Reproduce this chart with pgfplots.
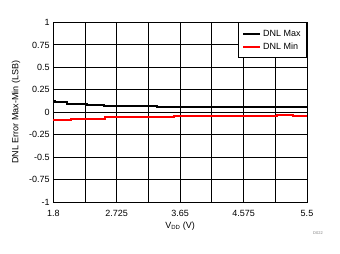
\documentclass[border=0pt]{standalone}
\usepackage{fontspec}
\setmainfont{Liberation Sans}
\usepackage{pgfplots}
\pgfplotsset{compat=1.18}
\begin{document}
\begin{tikzpicture}[x=1pt,y=1pt]
\fontsize{9}{10.8}\selectfont
\path[use as bounding box] (0,0) rectangle (340,254);
\begin{axis}[
  at={(53.3pt,52pt)}, anchor=south west,
  scale only axis, width=253.7pt, height=179.5pt,
  xmin=1.8, xmax=5.5, ymin=-1, ymax=1,
  xtick={1.8,2.725,3.65,4.575,5.5},
  xticklabels={1.8,2.725,3.65,4.575,5.5},
  minor xtick={2.2625,3.1875,4.1125,5.0375},
  ytick={-1,-0.75,-0.5,-0.25,0,0.25,0.5,0.75,1},
  yticklabels={-1,-0.75,-0.5,-0.25,0,0.25,0.5,0.75,1},
  major tick length=0pt, minor tick length=0pt,
  grid=both,
  major grid style={black, line width=0.9pt},
  minor grid style={black, line width=0.9pt},
  axis line style={black, line width=0.9pt},
  tick label style={font=\fontsize{9}{10.8}\selectfont},
  xticklabel style={yshift=-5.3pt},
  yticklabel style={xshift=-0.5pt},
  legend style={at={(1,1)}, anchor=north east, draw=black, line width=0.9pt,
    font=\fontsize{9}{10.8}\selectfont, inner xsep=4pt, inner ysep=5pt,
    row sep=1.5pt, fill=white},
  legend cell align=left,
  legend image code/.code={\draw[#1, line width=2pt] (0pt,0pt) -- (17pt,0pt);},
  clip=false,
]
\addplot[const plot, black, line width=2pt] coordinates {
(1.8,0.126) (1.82,0.11) (1.995,0.093) (2.29,0.081) (2.54,0.071) (3.31,0.063) (5.5,0.063)};
\addlegendentry{DNL Max}
\addplot[const plot, red, line width=2pt] coordinates {
(1.8,-0.082) (2.06,-0.071) (2.55,-0.056) (3.56,-0.045) (5.06,-0.034) (5.30,-0.045) (5.5,-0.045)};
\addlegendentry{DNL Min}
\node[rotate=90, anchor=center] at (axis description cs:-0.147,0.5) {DNL Error Max-Min (LSB)};
\node[anchor=center] at (axis description cs:0.5,-0.134) {V\textsubscript{DD} (V)};
\end{axis}
\node[text=gray, font=\fontsize{4}{4}\selectfont] at (318,21) {D022};
\end{tikzpicture}
\end{document}
